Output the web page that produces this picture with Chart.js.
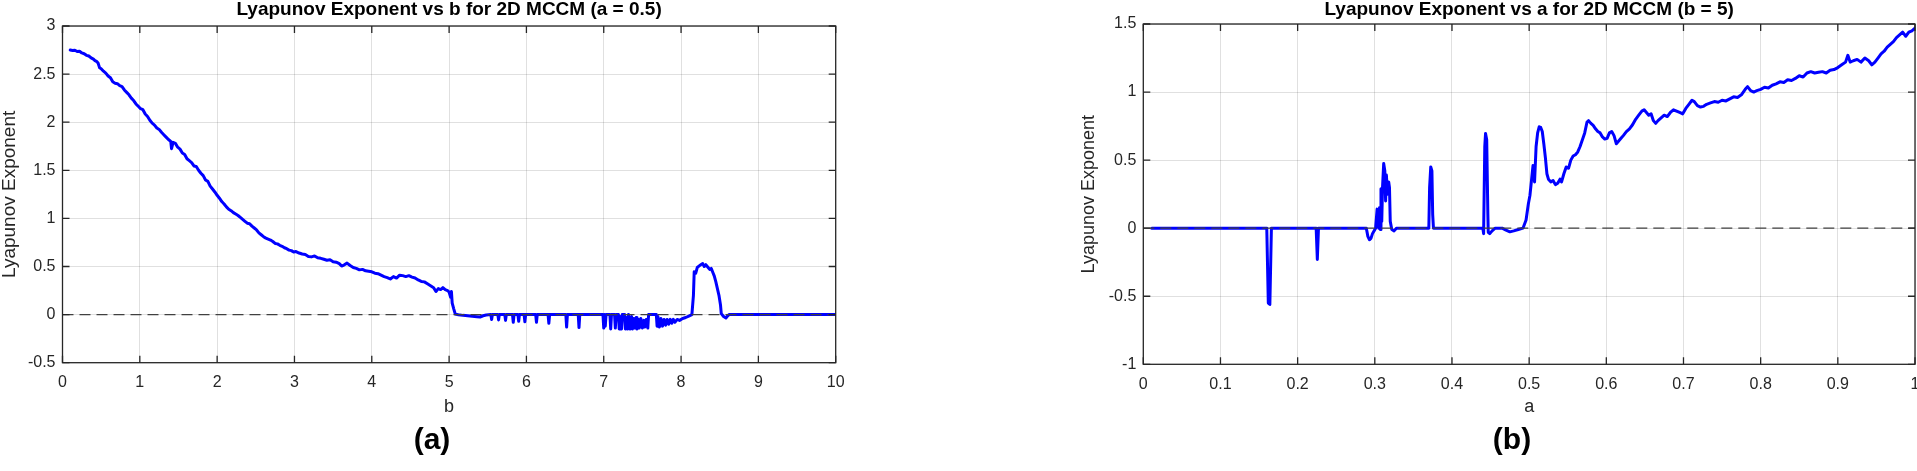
<!DOCTYPE html>
<html>
<head>
<meta charset="utf-8">
<title>Lyapunov Exponent – 2D MCCM</title>
<script src="https://cdn.jsdelivr.net/npm/chart.js@4.4.1/dist/chart.umd.min.js"></script>
<style>
  html, body { margin: 0; padding: 0; width: 1917px; height: 471px; overflow: hidden; background: #fff; }
  .panel { position: absolute; top: 0; width: 900px; height: 471px; }
  .tag { position: absolute; transform: translate(-50%, -50%); font: bold 30px "Liberation Sans", Arial, sans-serif; color: #000; }
</style>
</head>
<body>
<div class="panel" style="left:0px"><canvas id="chartB" width="900" height="471"></canvas></div>
<div class="panel" style="left:1080px"><canvas id="chartA" width="900" height="471"></canvas></div>
<div class="tag" style="left:432px; top:439px">(a)</div>
<div class="tag" style="left:1512px; top:439px">(b)</div>

<script>
/* ==========================================
   Data
========================================== */

// (a) exponent vs b, a = 0.5
const bValues = [
  0.10, 0.13, 0.16, 0.19, 0.22, 0.25, 0.28, 0.31, 0.34, 0.37,
  0.40, 0.42, 0.44, 0.46, 0.48, 0.50, 0.53, 0.56, 0.59, 0.62,
  0.65, 0.68, 0.71, 0.74, 0.77, 0.80, 0.83, 0.86, 0.89, 0.92,
  0.95, 0.98, 1.01, 1.04, 1.07, 1.10, 1.13, 1.16, 1.19, 1.22,
  1.25, 1.28, 1.31, 1.34, 1.37, 1.40, 1.41, 1.43, 1.46, 1.49,
  1.52, 1.55, 1.58, 1.61, 1.64, 1.67, 1.70, 1.73, 1.76, 1.79,
  1.82, 1.85, 1.88, 1.91, 1.94, 1.97, 2.00, 2.03, 2.06, 2.09,
  2.12, 2.15, 2.18, 2.21, 2.24, 2.27, 2.30, 2.33, 2.36, 2.39,
  2.42, 2.45, 2.48, 2.51, 2.54, 2.57, 2.60, 2.63, 2.66, 2.69,
  2.72, 2.75, 2.78, 2.81, 2.84, 2.87, 2.90, 2.93, 2.96, 2.99,
  3.02, 3.06, 3.10, 3.14, 3.18, 3.22, 3.26, 3.30, 3.34, 3.38,
  3.42, 3.46, 3.50, 3.54, 3.58, 3.61, 3.64, 3.68, 3.72, 3.76,
  3.80, 3.84, 3.88, 3.92, 3.96, 4.00, 4.04, 4.08, 4.12, 4.16,
  4.20, 4.24, 4.28, 4.32, 4.36, 4.40, 4.44, 4.48, 4.52, 4.56,
  4.60, 4.64, 4.68, 4.72, 4.76, 4.80, 4.83, 4.86, 4.89, 4.92,
  4.95, 4.98, 5.00, 5.02, 5.03, 5.04, 5.06, 5.08, 5.12, 5.18,
  5.24, 5.30, 5.36, 5.40, 5.44, 5.48, 5.54, 5.55, 5.56, 5.63,
  5.64, 5.65, 5.72, 5.73, 5.74, 5.82, 5.83, 5.84, 5.89, 5.90,
  5.91, 5.97, 5.98, 5.99, 6.12, 6.13, 6.14, 6.28, 6.29, 6.30,
  6.51, 6.52, 6.53, 6.67, 6.68, 6.69, 6.99, 7.00, 7.01, 7.02,
  7.03, 7.08, 7.09, 7.10, 7.14, 7.15, 7.16, 7.19, 7.20, 7.21,
  7.23, 7.24, 7.27, 7.28, 7.29, 7.31, 7.32, 7.34, 7.36, 7.37,
  7.39, 7.40, 7.42, 7.43, 7.45, 7.46, 7.48, 7.50, 7.52, 7.53,
  7.55, 7.57, 7.58, 7.68, 7.69, 7.70, 7.72, 7.74, 7.76, 7.78,
  7.80, 7.82, 7.84, 7.86, 7.88, 7.90, 7.92, 7.95, 7.98, 8.02,
  8.06, 8.10, 8.14, 8.16, 8.17, 8.19, 8.21, 8.24, 8.26, 8.28,
  8.30, 8.32, 8.35, 8.37, 8.39, 8.41, 8.43, 8.45, 8.47, 8.49,
  8.51, 8.52, 8.55, 8.58, 8.60, 8.62, 10.0
];
const lyapunovVsB = [
  2.750, 2.745, 2.748, 2.735, 2.738, 2.720, 2.712, 2.695, 2.688, 2.668,
  2.655, 2.640, 2.632, 2.615, 2.565, 2.555, 2.530, 2.510, 2.480, 2.462,
  2.420, 2.405, 2.400, 2.380, 2.370, 2.335, 2.310, 2.285, 2.250, 2.225,
  2.190, 2.165, 2.140, 2.130, 2.085, 2.060, 2.020, 1.990, 1.970, 1.940,
  1.925, 1.895, 1.870, 1.845, 1.820, 1.800, 1.725, 1.790, 1.780, 1.740,
  1.720, 1.680, 1.665, 1.620, 1.600, 1.580, 1.545, 1.540, 1.500, 1.470,
  1.445, 1.400, 1.385, 1.335, 1.305, 1.275, 1.240, 1.210, 1.175, 1.150,
  1.120, 1.095, 1.080, 1.060, 1.045, 1.030, 1.010, 0.990, 0.970, 0.950,
  0.945, 0.920, 0.900, 0.880, 0.850, 0.830, 0.810, 0.795, 0.785, 0.775,
  0.760, 0.740, 0.735, 0.720, 0.710, 0.695, 0.685, 0.670, 0.665, 0.650,
  0.655, 0.640, 0.630, 0.625, 0.605, 0.600, 0.610, 0.590, 0.585, 0.575,
  0.565, 0.570, 0.550, 0.545, 0.530, 0.505, 0.515, 0.535, 0.510, 0.490,
  0.480, 0.465, 0.470, 0.455, 0.450, 0.445, 0.430, 0.425, 0.410, 0.395,
  0.385, 0.370, 0.395, 0.380, 0.410, 0.405, 0.395, 0.405, 0.390, 0.380,
  0.360, 0.345, 0.340, 0.320, 0.300, 0.280, 0.240, 0.270, 0.260, 0.280,
  0.260, 0.250, 0.235, 0.180, 0.240, 0.120, 0.060, 0.005, -0.002, -0.008,
  -0.012, -0.018, -0.022, -0.025, -0.012, -0.005, 0, -0.05, 0, 0,
  -0.055, 0, 0, -0.06, 0, 0, -0.08, 0, 0, -0.07,
  0, 0, -0.075, 0, 0, -0.08, 0, 0, -0.09, 0,
  0, -0.13, 0, 0, -0.135, 0, 0, -0.14, 0, -0.12,
  0, 0, -0.15, 0, 0, -0.14, 0, 0, -0.15, -0.02,
  -0.15, 0, 0, -0.15, -0.03, -0.15, 0, -0.15, -0.02, -0.15,
  -0.04, -0.14, -0.03, -0.15, -0.05, -0.14, -0.04, -0.14, -0.06, -0.13,
  -0.05, -0.14, 0, 0, -0.12, -0.02, -0.13, -0.04, -0.12, -0.05,
  -0.11, -0.05, -0.10, -0.05, -0.09, -0.05, -0.08, -0.05, -0.06, -0.04,
  -0.03, -0.015, 0, 0.20, 0.445, 0.43, 0.49, 0.51, 0.52, 0.53,
  0.50, 0.52, 0.49, 0.47, 0.48, 0.44, 0.40, 0.34, 0.27, 0.20,
  0.10, 0.01, -0.02, -0.035, -0.015, 0, 0
];
const bTicks = [0, 1, 2, 3, 4, 5, 6, 7, 8, 9, 10];
const bTickLabels = ["0", "1", "2", "3", "4", "5", "6", "7", "8", "9", "10"];
const bYTicks = [-0.5, 0, 0.5, 1, 1.5, 2, 2.5, 3];
const bYTickLabels = ["-0.5", "0", "0.5", "1", "1.5", "2", "2.5", "3"];

// (b) exponent vs a, b = 5
const aValues = [
  0.011, 0.160, 0.162, 0.164, 0.166, 0.224, 0.2255, 0.227, 0.289, 0.291,
  0.293, 0.295, 0.297, 0.299, 0.301, 0.303, 0.305, 0.306, 0.307, 0.308,
  0.309, 0.310, 0.3115, 0.313, 0.314, 0.315, 0.3165, 0.318, 0.319, 0.320,
  0.322, 0.325, 0.328, 0.370, 0.371, 0.3725, 0.374, 0.375, 0.376, 0.440,
  0.441, 0.4425, 0.4435, 0.445, 0.4465, 0.447, 0.449, 0.452, 0.456, 0.465,
  0.470, 0.475, 0.480, 0.486, 0.492, 0.496, 0.499, 0.501, 0.503, 0.505,
  0.507, 0.509, 0.511, 0.513, 0.515, 0.517, 0.519, 0.521, 0.523, 0.525,
  0.528, 0.531, 0.534, 0.537, 0.540, 0.542, 0.545, 0.548, 0.551, 0.554,
  0.557, 0.560, 0.563, 0.566, 0.569, 0.572, 0.575, 0.577, 0.580, 0.583,
  0.586, 0.589, 0.592, 0.595, 0.598, 0.601, 0.604, 0.607, 0.610, 0.613,
  0.616, 0.619, 0.622, 0.626, 0.630, 0.634, 0.638, 0.642, 0.646, 0.649,
  0.652, 0.655, 0.658, 0.661, 0.664, 0.667, 0.671, 0.675, 0.679, 0.683,
  0.687, 0.691, 0.695, 0.699, 0.703, 0.707, 0.711, 0.714, 0.718, 0.722,
  0.726, 0.730, 0.735, 0.740, 0.745, 0.750, 0.755, 0.760, 0.765, 0.770,
  0.775, 0.780, 0.783, 0.787, 0.791, 0.795, 0.800, 0.805, 0.810, 0.815,
  0.820, 0.825, 0.830, 0.835, 0.840, 0.845, 0.850, 0.855, 0.860, 0.865,
  0.870, 0.875, 0.880, 0.885, 0.890, 0.895, 0.900, 0.905, 0.910, 0.913,
  0.916, 0.920, 0.925, 0.930, 0.935, 0.940, 0.944, 0.948, 0.952, 0.956,
  0.960, 0.964, 0.968, 0.972, 0.976, 0.980, 0.984, 0.988, 0.992, 0.996,
  1.000
];
const lyapunovVsA = [
  0, 0, -0.55, -0.56, 0, 0, -0.23, 0, 0, -0.06,
  -0.085, -0.075, -0.04, -0.02, 0, 0.14, 0, 0.15, -0.01, 0.29,
  0.05, 0.30, 0.475, 0.42, 0.20, 0.39, 0.25, 0.34, 0.30, 0.05,
  -0.01, -0.02, 0, 0, 0.30, 0.45, 0.42, 0.10, 0, 0,
  -0.04, 0.60, 0.696, 0.65, 0.10, -0.03, -0.04, -0.02, 0, 0,
  -0.015, -0.027, -0.02, -0.01, 0, 0.06, 0.18, 0.24, 0.35, 0.46,
  0.34, 0.60, 0.70, 0.745, 0.74, 0.71, 0.62, 0.52, 0.40, 0.36,
  0.34, 0.35, 0.32, 0.33, 0.36, 0.34, 0.40, 0.45, 0.44, 0.50,
  0.53, 0.54, 0.56, 0.60, 0.65, 0.70, 0.78, 0.79, 0.77, 0.755,
  0.73, 0.71, 0.70, 0.67, 0.655, 0.66, 0.70, 0.71, 0.68, 0.62,
  0.64, 0.66, 0.68, 0.71, 0.73, 0.76, 0.80, 0.83, 0.86, 0.87,
  0.85, 0.83, 0.84, 0.79, 0.77, 0.79, 0.81, 0.83, 0.82, 0.85,
  0.87, 0.86, 0.85, 0.84, 0.88, 0.91, 0.94, 0.93, 0.90, 0.89,
  0.895, 0.91, 0.92, 0.93, 0.925, 0.94, 0.935, 0.95, 0.965, 0.96,
  0.98, 1.02, 1.04, 1.01, 1.00, 1.01, 1.02, 1.035, 1.03, 1.05,
  1.06, 1.075, 1.07, 1.09, 1.085, 1.10, 1.12, 1.11, 1.14, 1.15,
  1.14, 1.145, 1.15, 1.14, 1.16, 1.165, 1.18, 1.20, 1.22, 1.27,
  1.22, 1.23, 1.24, 1.22, 1.25, 1.23, 1.20, 1.22, 1.25, 1.28,
  1.30, 1.33, 1.35, 1.37, 1.40, 1.42, 1.44, 1.41, 1.44, 1.45,
  1.47
];
const aTicks = [0, 0.1, 0.2, 0.3, 0.4, 0.5, 0.6, 0.7, 0.8, 0.9, 1];
const aTickLabels = ["0", "0.1", "0.2", "0.3", "0.4", "0.5", "0.6", "0.7", "0.8", "0.9", "1"];
const aYTicks = [-1, -0.5, 0, 0.5, 1, 1.5];
const aYTickLabels = ["-1", "-0.5", "0", "0.5", "1", "1.5"];

/* ==========================================
   Look
========================================== */

const AXIS_COLOR = "#262626";
const GRID_COLOR = "rgba(0,0,0,0.12)";
const CANVAS_W = 900;
const CANVAS_H = 471;
const BOTTOM_SPACE = 50;

Chart.defaults.font.family = '"Liberation Sans", Arial, Helvetica, sans-serif';
Chart.defaults.color = AXIS_COLOR;

// MATLAB style box with inward tick marks
const axesBox = {
  id: "axesBox",
  afterDraw(chart) {
    const { ctx, chartArea, scales } = chart;
    const { left, top, right, bottom } = chartArea;
    ctx.save();
    ctx.strokeStyle = AXIS_COLOR;
    ctx.lineWidth = 1.3;
    ctx.beginPath();
    scales.x.ticks.forEach((t) => {
      const px = scales.x.getPixelForValue(t.value);
      ctx.moveTo(px, bottom); ctx.lineTo(px, bottom - 7);
      ctx.moveTo(px, top); ctx.lineTo(px, top + 7);
    });
    scales.y.ticks.forEach((t) => {
      const py = scales.y.getPixelForValue(t.value);
      ctx.moveTo(left, py); ctx.lineTo(left + 7, py);
      ctx.moveTo(right, py); ctx.lineTo(right - 7, py);
    });
    ctx.stroke();
    ctx.strokeRect(left, top, right - left, bottom - top);
    ctx.restore();
  },
};

function makePanel(canvasId, p) {
  const points = p.xs.map((x, i) => ({ x, y: p.ys[i] }));
  return new Chart(document.getElementById(canvasId), {
    type: "line",
    data: {
      datasets: [
        {
          data: [{ x: p.xMin, y: 0 }, { x: p.xMax, y: 0 }],
          borderColor: "#404040",
          borderWidth: 1.3,
          borderDash: [11, 6],
          pointRadius: 0,
          order: 0,
        },
        {
          data: points,
          borderColor: "#0000ff",
          borderWidth: 3,
          borderJoinStyle: "round",
          borderCapStyle: "round",
          pointRadius: 0,
          tension: 0,
          order: 1,
        },
      ],
    },
    options: {
      responsive: false,
      animation: false,
      devicePixelRatio: 1,
      layout: { padding: { left: 0, top: 0, right: CANVAS_W - (p.plotRight - p.canvasLeft), bottom: BOTTOM_SPACE } },
      plugins: {
        legend: { display: false },
        tooltip: { enabled: false },
        title: {
          display: true,
          text: p.title,
          fullSize: false,
          color: "#000",
          font: { size: 19, weight: "bold", lineHeight: 1 },
          padding: { top: 0.5, bottom: p.plotTop - 19.5 },
        },
      },
      scales: {
        x: {
          type: "linear",
          min: p.xMin,
          max: p.xMax,
          afterBuildTicks: (s) => { s.ticks = p.xTicks.map((v) => ({ value: v })); },
          afterFit: (s) => { s.height = CANVAS_H - BOTTOM_SPACE - p.plotBottom; },
          ticks: {
            padding: 10.7,
            maxRotation: 0,
            autoSkip: false,
            font: { size: 16, lineHeight: 1.2 },
            callback: (v, i) => p.xLabels[i],
          },
          grid: { color: GRID_COLOR, lineWidth: 1, drawTicks: false },
          border: { display: false },
          title: { display: true, text: p.xTitle, font: { size: 18, lineHeight: 1 }, padding: { top: 0, bottom: 5 } },
        },
        y: {
          type: "linear",
          min: p.yMin,
          max: p.yMax,
          afterBuildTicks: (s) => { s.ticks = p.yTicks.map((v) => ({ value: v })); },
          afterFit: (s) => { s.width = p.plotLeft - p.canvasLeft; },
          ticks: {
            padding: 7,
            autoSkip: false,
            font: { size: 16, lineHeight: 1.2 },
            callback: (v, i) => p.yLabels[i],
          },
          grid: { color: GRID_COLOR, lineWidth: 1, drawTicks: false },
          border: { display: false },
          title: { display: true, text: "Lyapunov Exponent", font: { size: p.yTitleSize, lineHeight: 1 }, padding: { top: 0, bottom: 0 } },
        },
      },
    },
    plugins: [axesBox],
  });
}

makePanel("chartB", {
  xs: bValues, ys: lyapunovVsB,
  xTicks: bTicks, xLabels: bTickLabels, yTicks: bYTicks, yLabels: bYTickLabels,
  xMin: 0, xMax: 10, yMin: -0.5, yMax: 3,
  title: "Lyapunov Exponent vs b for 2D MCCM (a = 0.5)", xTitle: "b", yTitleSize: 19,
  canvasLeft: 0, plotLeft: 62.5, plotTop: 26, plotRight: 835.7, plotBottom: 362.7,
});

makePanel("chartA", {
  xs: aValues, ys: lyapunovVsA,
  xTicks: aTicks, xLabels: aTickLabels, yTicks: aYTicks, yLabels: aYTickLabels,
  xMin: 0, xMax: 1, yMin: -1, yMax: 1.5,
  title: "Lyapunov Exponent vs a for 2D MCCM (b = 5)", xTitle: "a", yTitleSize: 18,
  canvasLeft: 1080, plotLeft: 1143.3, plotTop: 24, plotRight: 1915, plotBottom: 364.3,
});
</script>
</body>
</html>
